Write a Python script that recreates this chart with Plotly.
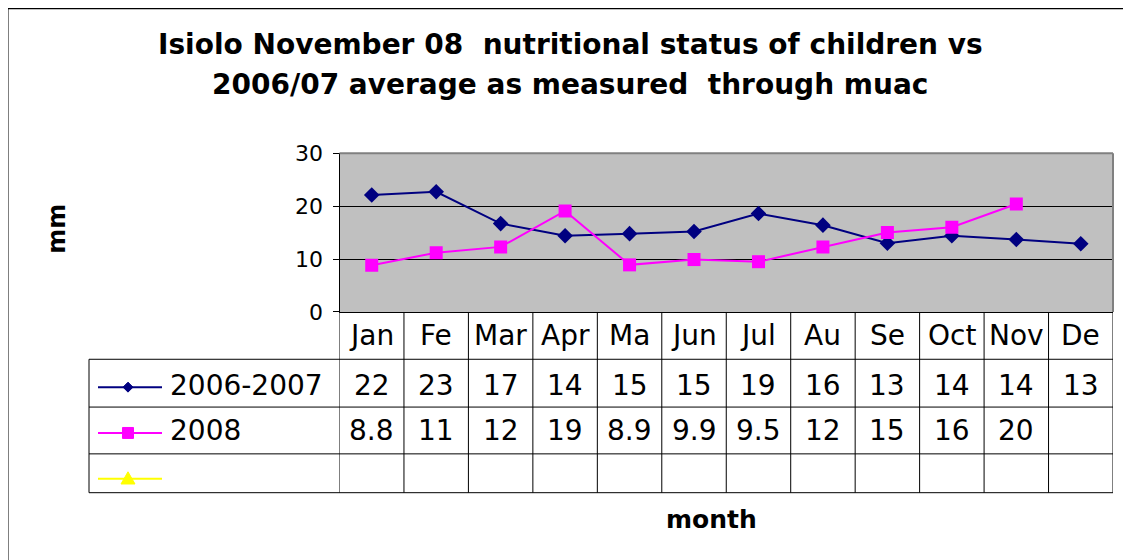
import plotly.graph_objects as go

# ---------------- data ----------------
months = ["Jan", "Fe", "Mar", "Apr", "Ma", "Jun", "Jul", "Au", "Se", "Oct", "Nov", "De"]
avg_0607 = [22.1, 22.7, 16.7, 14.4, 14.8, 15.2, 18.6, 16.4, 13.0, 14.4, 13.7, 12.9]
y2008 = [8.84, 11.2, 12.3, 19.1, 8.9, 9.9, 9.5, 12.3, 15.0, 16.0, 20.4, None]
series_names = ["2006-2007", "2008", ""]
y_ticks = [0, 10, 20, 30]

title_lines = ["Isiolo November 08\u00a0\u00a0nutritional status of children vs",
               "2006/07 average as measured\u00a0\u00a0through muac"]

# ---------------- layout helpers (reference pixels -> paper) ----------------
OFF_X = 8            # page offset of the figure (body margin)
OFF_Y = 19           # vertical page offset of the figure
SCALE_Y = 0.96       # vertical scale of the photograph
W = 1131 - 2 * OFF_X
H = 566
def px(x): return (x - OFF_X) / W
def py(y): return 1 - (y / SCALE_Y - OFF_Y) / H

PLOT_L, PLOT_R, PLOT_T, PLOT_B = 339.5, 1113, 152, 311.5
TABLE_LEFT = 89
ROW_LINES = [359, 407, 454, 493]
HEADER_Y = 335
ROW_Y = [385, 431, 474]
KEY_Y = [387, 433, 479]
KEY_X0, KEY_XM, KEY_X1 = 98, 128, 162

FONT = "DejaVu Sans"
NAVY, MAGENTA, YELLOW = "#000080", "#FF00FF", "#FFFF00"

x_idx = list(range(len(months)))

fig = go.Figure()
fig.add_trace(go.Scatter(x=x_idx, y=avg_0607, mode="lines+markers", name=series_names[0],
                         line=dict(color=NAVY, width=2),
                         marker=dict(symbol="diamond", size=12, color=NAVY)))
fig.add_trace(go.Scatter(x=x_idx, y=y2008, mode="lines+markers", name=series_names[1],
                         line=dict(color=MAGENTA, width=2),
                         marker=dict(symbol="square", size=13, color=MAGENTA)))

shapes = []
# outer chart border
shapes.append(dict(type="rect", xref="paper", yref="paper", x0=px(7.5), x1=px(1140), y0=py(6.5), y1=py(575),
                   line=dict(color="black", width=2)))
# plot area top/right border (gray)
shapes.append(dict(type="line", xref="x domain", yref="y domain", x0=0, x1=1, y0=1, y1=1,
                   line=dict(color="#808080", width=2), layer="above"))
shapes.append(dict(type="line", xref="x domain", yref="y domain", x0=1, x1=1, y0=0, y1=1,
                   line=dict(color="#808080", width=2), layer="above"))
# table vertical lines at category boundaries
for i in range(len(months) + 1):
    shapes.append(dict(type="line", xref="x", yref="paper", x0=i - 0.5, x1=i - 0.5,
                       y0=py(PLOT_B), y1=py(ROW_LINES[-1]), line=dict(color="black", width=1)))
# legend column left edge
shapes.append(dict(type="line", xref="paper", yref="paper", x0=px(TABLE_LEFT), x1=px(TABLE_LEFT),
                   y0=py(ROW_LINES[0]), y1=py(ROW_LINES[-1]), line=dict(color="black", width=1)))
# horizontal table lines
for yl in ROW_LINES:
    shapes.append(dict(type="line", xref="paper", yref="paper", x0=px(TABLE_LEFT), x1=px(PLOT_R),
                       y0=py(yl), y1=py(yl), line=dict(color="black", width=1)))

# legend keys inside the table (pixel-space paths)
def pix_path(points):
    return "M " + " L ".join(f"{px(x):.5f},{py(y):.5f}" for x, y in points) + " Z"

key_styles = [("diamond", NAVY, 5), ("square", MAGENTA, 5.5), ("triangle", YELLOW, 7)]
for (sym, col, r), ky in zip(key_styles, KEY_Y):
    shapes.append(dict(type="line", xref="paper", yref="paper", x0=px(KEY_X0), x1=px(KEY_X1),
                       y0=py(ky), y1=py(ky), line=dict(color=col, width=2)))
    cx = KEY_XM
    if sym == "diamond":
        pts = [(cx, ky - r), (cx + r, ky), (cx, ky + r), (cx - r, ky)]
    elif sym == "square":
        pts = [(cx - r, ky - r), (cx + r, ky - r), (cx + r, ky + r), (cx - r, ky + r)]
    else:
        pts = [(cx, ky - r), (cx + r, ky + r * 0.75), (cx - r, ky + r * 0.75)]
    shapes.append(dict(type="path", xref="paper", yref="paper", path=pix_path(pts),
                       fillcolor=col, line=dict(color=col, width=1)))

ann = []
for t, yy in zip(title_lines, [43, 83]):
    ann.append(dict(text=t, xref="paper", yref="paper", x=px(570), y=py(yy), showarrow=False,
                    xanchor="center", yanchor="middle", font=dict(family=FONT, size=28, color="black", weight="bold")))
# header months
for i, m in enumerate(months):
    ann.append(dict(text=m, xref="x", yref="paper", x=i, y=py(HEADER_Y), showarrow=False,
                    xanchor="center", yanchor="middle", font=dict(family=FONT, size=28, color="black")))
# table values
def fmt(v):
    return "" if v is None else f"{v:.2g}"
for row, vals in enumerate([avg_0607, y2008]):
    for i, v in enumerate(vals):
        ann.append(dict(text=fmt(v), xref="x", yref="paper", x=i, y=py(ROW_Y[row]), showarrow=False,
                        xanchor="center", yanchor="middle", font=dict(family=FONT, size=28, color="black")))
# series names
for name, yy in zip(series_names, ROW_Y):
    if name:
        ann.append(dict(text=name, xref="paper", yref="paper", x=px(168), y=py(yy), showarrow=False,
                        xanchor="left", yanchor="middle", font=dict(family=FONT, size=28, color="black")))
# axis titles
ann.append(dict(text="mm", xref="paper", yref="paper", x=px(57), y=py(228), showarrow=False, textangle=-90,
                xanchor="center", yanchor="middle", font=dict(family=FONT, size=24, color="black", weight="bold")))
ann.append(dict(text="month", xref="paper", yref="paper", x=px(711), y=py(520), showarrow=False,
                xanchor="center", yanchor="middle", font=dict(family=FONT, size=25, color="black", weight="bold")))

fig.update_layout(
    width=W, height=H, margin=dict(l=0, r=0, t=0, b=0),
    paper_bgcolor="white", plot_bgcolor="#C0C0C0", showlegend=False,
    xaxis=dict(domain=[px(PLOT_L), px(PLOT_R)], range=[-0.5, len(months) - 0.5], showticklabels=False,
               showgrid=False, zeroline=False, showline=True, linecolor="black", linewidth=1, ticks=""),
    yaxis=dict(domain=[py(PLOT_B), py(PLOT_T)], range=[0, 30], tickvals=y_ticks, showgrid=True,
               gridcolor="black", gridwidth=1, zeroline=False, showline=True, linecolor="black", linewidth=1,
               ticks="outside", ticklen=6, tickcolor="black", ticklabelstandoff=5,
               tickfont=dict(family=FONT, size=22, color="black")),
    shapes=shapes, annotations=ann,
)

fig.write_html("out.html")
